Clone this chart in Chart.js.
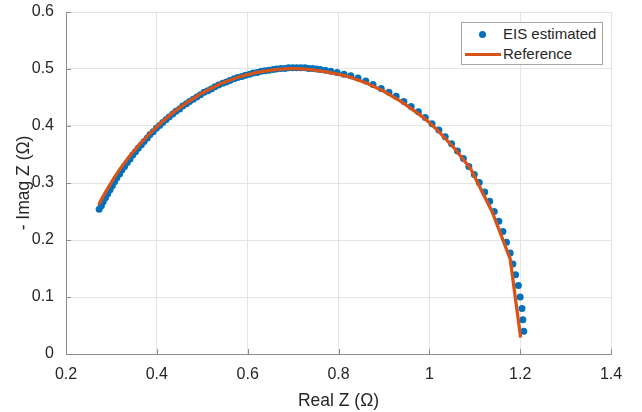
<!DOCTYPE html>
<html lang="en">
<head>
<meta charset="UTF-8" />
<title>EIS estimated vs Reference</title>
<style>
  body {
    margin: 0;
    background: #fff;
    font-family: "Liberation Sans", Arial, sans-serif;
  }
  .wrap {
    position: relative;
    width: 642px;
    height: 412px;
  }
  .legend {
    position: absolute;
    left: 461px;
    top: 22px;
    width: 140px;
    height: 41px;
    border: 1px solid #a6a6a6;
    background: #fff;
    color: #262626;
    font-size: 15px;
  }
  .legend .row {
    position: absolute;
    left: 0;
    height: 20px;
    line-height: 20px;
  }
  .legend .sym {
    position: absolute;
    top: 0;
    left: 0;
    width: 40px;
    height: 20px;
  }
  .legend .txt {
    position: absolute;
    left: 41px;
    top: 0;
    white-space: nowrap;
  }
  .dot {
    position: absolute;
    left: 17px;
    top: 7px;
    width: 7px;
    height: 7px;
    border-radius: 50%;
    background: #0072bd;
  }
  .bar {
    position: absolute;
    left: 3px;
    top: 9px;
    width: 36px;
    height: 3px;
    background: #d95319;
  }
</style>
</head>
<body>
<div class="wrap">
  <canvas id="nyquist" width="642" height="412"></canvas>
  <div class="legend">
    <div class="row" style="top:1px"><span class="sym"><span class="dot"></span></span><span class="txt">EIS estimated</span></div>
    <div class="row" style="top:21px"><span class="sym"><span class="bar"></span></span><span class="txt">Reference</span></div>
  </div>
</div>

<script src="https://cdn.jsdelivr.net/npm/chart.js"></script>
<script>
  // EIS estimated points
  const eisReal = [
    1.208, 1.206, 1.204, 1.200, 1.196, 1.190, 1.184, 1.178, 1.170, 1.162,
    1.153, 1.143, 1.133, 1.122, 1.110, 1.099, 1.087, 1.075, 1.062, 1.049,
    1.035, 1.021, 1.006, 0.991, 0.976, 0.960, 0.944, 0.927, 0.911, 0.894,
    0.876, 0.860, 0.843, 0.827, 0.812, 0.797, 0.783, 0.771, 0.760, 0.752,
    0.743, 0.734, 0.726, 0.717, 0.708, 0.699, 0.690, 0.682, 0.673, 0.664,
    0.656, 0.647, 0.638, 0.630, 0.621, 0.612, 0.604, 0.595, 0.587, 0.578,
    0.570, 0.561, 0.553, 0.545, 0.536, 0.528, 0.520, 0.512, 0.504, 0.496,
    0.488, 0.480, 0.472, 0.465, 0.457, 0.450, 0.442, 0.435, 0.427, 0.420,
    0.413, 0.406, 0.399, 0.392, 0.385, 0.379, 0.372, 0.366, 0.359, 0.353,
    0.347, 0.341, 0.335, 0.329, 0.323, 0.318, 0.312, 0.307, 0.302, 0.297,
    0.292, 0.287, 0.282, 0.278, 0.273
  ];
  const eisImag = [
    0.040, 0.060, 0.080, 0.100, 0.120, 0.139, 0.158, 0.177, 0.196, 0.215,
    0.233, 0.250, 0.268, 0.284, 0.301, 0.315, 0.329, 0.343, 0.356, 0.369,
    0.381, 0.393, 0.404, 0.415, 0.425, 0.434, 0.443, 0.452, 0.459, 0.466,
    0.473, 0.479, 0.484, 0.488, 0.491, 0.494, 0.496, 0.498, 0.499, 0.500,
    0.501, 0.501, 0.502, 0.502, 0.502, 0.502, 0.502, 0.501, 0.501, 0.500,
    0.499, 0.498, 0.497, 0.496, 0.494, 0.493, 0.491, 0.489, 0.487, 0.485,
    0.483, 0.480, 0.477, 0.475, 0.472, 0.469, 0.465, 0.462, 0.459, 0.455,
    0.451, 0.447, 0.443, 0.439, 0.435, 0.430, 0.426, 0.421, 0.416, 0.411,
    0.406, 0.401, 0.396, 0.390, 0.385, 0.379, 0.373, 0.367, 0.361, 0.355,
    0.349, 0.342, 0.336, 0.329, 0.323, 0.316, 0.309, 0.302, 0.295, 0.288,
    0.281, 0.274, 0.267, 0.260, 0.254
  ];

  // Reference curve
  const refReal = [
    0.272, 0.282, 0.293, 0.306, 0.321, 0.340, 0.360, 0.385, 0.410, 0.440,
    0.470, 0.500, 0.540, 0.580, 0.620, 0.660, 0.700, 0.740, 0.780, 0.820,
    0.860, 0.900, 0.940, 0.980, 1.000, 1.020, 1.055, 1.091, 1.138, 1.178,
    1.201
  ];
  const refImag = [
    0.262, 0.277, 0.292, 0.309, 0.327, 0.347, 0.366, 0.387, 0.406, 0.426,
    0.443, 0.458, 0.474, 0.486, 0.494, 0.499, 0.501, 0.499, 0.494, 0.487,
    0.476, 0.461, 0.442, 0.419, 0.406, 0.391, 0.361, 0.325, 0.250, 0.167,
    0.029
  ];

  const xTicks = [0.2, 0.4, 0.6, 0.8, 1, 1.2, 1.4];
  const yTicks = [0, 0.1, 0.2, 0.3, 0.4, 0.5, 0.6];

  const axisColor = "#8c8c8c";
  const gridColor = "#e4e4e4";
  const textColor = "#262626";
  const fontFamily = "'Liberation Sans', Arial, sans-serif";

  // MATLAB style ticks pointing into the plot
  const innerTicks = {
    id: "innerTicks",
    afterDraw(chart) {
      const { ctx, chartArea, scales } = chart;
      ctx.save();
      ctx.strokeStyle = axisColor;
      ctx.lineWidth = 1;
      ctx.beginPath();
      xTicks.forEach((v) => {
        const px = Math.round(scales.x.getPixelForValue(v)) + 0.5;
        ctx.moveTo(px, chartArea.bottom);
        ctx.lineTo(px, chartArea.bottom - 5);
      });
      yTicks.forEach((v) => {
        const py = Math.round(scales.y.getPixelForValue(v)) + 0.5;
        ctx.moveTo(chartArea.left, py);
        ctx.lineTo(chartArea.left + 5, py);
      });
      ctx.stroke();
      ctx.restore();
    },
  };

  new Chart(document.getElementById("nyquist"), {
    type: "scatter",
    data: {
      datasets: [
        {
          label: "Reference",
          data: refReal.map((x, i) => ({ x: x, y: refImag[i] })),
          showLine: true,
          borderColor: "#d95319",
          borderWidth: 3.3,
          pointRadius: 0,
          tension: 0,
          order: 0,
        },
        {
          label: "EIS estimated",
          data: eisReal.map((x, i) => ({ x: x, y: eisImag[i] })),
          backgroundColor: "#0072bd",
          borderWidth: 0,
          pointRadius: 3.5,
          order: 1,
        },
      ],
    },
    options: {
      responsive: false,
      animation: false,
      devicePixelRatio: 1,
      layout: { padding: { top: 12, right: 31, left: 0, bottom: 0 } },
      plugins: {
        legend: { display: false },
        tooltip: { enabled: false },
      },
      scales: {
        x: {
          type: "linear",
          min: 0.2,
          max: 1.4,
          afterBuildTicks: (s) => { s.ticks = xTicks.map((v) => ({ value: v })); },
          afterFit: (s) => {
            s.height = 58;
            s.paddingLeft = 0;
            s.paddingRight = 0;
          },
          ticks: {
            padding: 11,
            color: textColor,
            font: { family: fontFamily, size: 16 },
            callback: (v) => String(Math.round(v * 10) / 10),
          },
          grid: { color: gridColor, drawTicks: false },
          border: { color: axisColor },
          title: {
            display: true,
            text: "Real Z (\u03A9)",
            color: textColor,
            font: { family: fontFamily, size: 17.5 },
            padding: { top: 1, bottom: 0 },
          },
        },
        y: {
          type: "linear",
          min: 0,
          max: 0.6,
          afterBuildTicks: (s) => { s.ticks = yTicks.map((v) => ({ value: v })); },
          afterFit: (s) => {
            s.width = 66;
            s.paddingTop = 0;
            s.paddingBottom = 0;
          },
          ticks: {
            padding: 12,
            color: textColor,
            font: { family: fontFamily, size: 16 },
            callback: (v) => String(Math.round(v * 10) / 10),
          },
          grid: { color: gridColor, drawTicks: false },
          border: { color: axisColor },
          title: {
            display: true,
            text: "- Imag Z (\u03A9)",
            color: textColor,
            font: { family: fontFamily, size: 17.5 },
            padding: { top: 14, bottom: 0 },
          },
        },
      },
    },
    plugins: [innerTicks],
  });
</script>
</body>
</html>
